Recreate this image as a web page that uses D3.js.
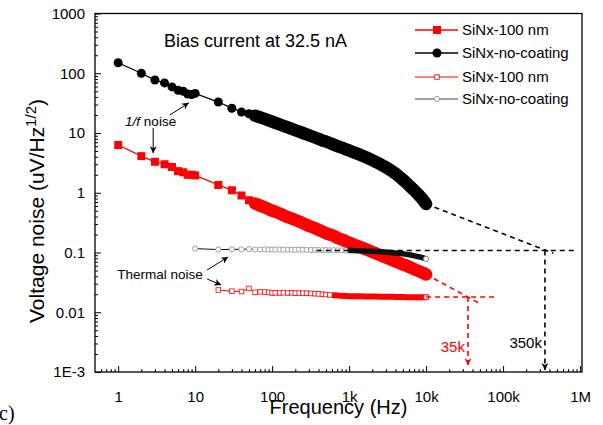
<!DOCTYPE html>
<html>
<head>
<meta charset="utf-8">
<script src="https://cdn.jsdelivr.net/npm/d3@7"></script>
<style>
  html, body { margin: 0; padding: 0; background: #fff; }
  svg { display: block; font-family: "Liberation Sans", Arial, sans-serif; }
</style>
</head>
<body>
<div id="chart"></div>
<script>
// measured frequencies (Hz), shared by the 1/f series
const freqs = [1, 2, 3, 4, 5, 6, 7, 8, 9, 10,
    20, 30, 40, 50, 60, 70, 80, 90, 100,
    110, 125, 140, 160, 180, 200, 225, 250, 280, 320, 360, 400, 450, 500, 560, 630, 710, 800, 900, 1000,
    1120, 1250, 1400, 1600, 1800, 2000, 2250, 2500, 2800, 3200, 3600, 4000, 4500, 5000, 5600, 6300, 7100, 8000, 9000, 10000];

// 1/f noise, SiNx-no-coating (filled circles)
const noCoatNoise = [150, 100, 77, 69, 59, 52, 50, 45, 44, 46,
    33, 26, 22.5, 21, 19.5, 18.2, 17.2, 16.3, 15.5,
    14.8, 13.9, 13.2, 12.4, 11.7, 11.1, 10.5, 10.0, 9.5, 8.9, 8.4, 8.0, 7.5, 7.2, 6.8, 6.4, 6.0, 5.7, 5.35, 5.1,
    4.8, 4.55, 4.3, 4.0, 3.75, 3.5, 3.25, 3.05, 2.8, 2.55, 2.3, 2.1, 1.85, 1.65, 1.45, 1.25, 1.08, 0.92, 0.78, 0.65];

// 1/f noise, SiNx-100 nm (filled squares)
const nm100Noise = [6.3, 4.1, 3.3, 3.0, 2.7, 2.3, 2.2, 2.0, 2.0, 1.95,
    1.35, 1.1, 0.9, 0.75, 0.66, 0.61, 0.57, 0.53, 0.5,
    0.48, 0.45, 0.42, 0.39, 0.37, 0.35, 0.33, 0.31, 0.29, 0.27, 0.255, 0.24, 0.225, 0.21, 0.2, 0.19, 0.175, 0.165, 0.155, 0.146,
    0.138, 0.13, 0.123, 0.115, 0.108, 0.102, 0.096, 0.091, 0.086, 0.08, 0.075, 0.071, 0.067, 0.063, 0.06, 0.056, 0.052, 0.049, 0.046, 0.043];

// thermal noise (open markers); no-coating starts at 10 Hz, 100 nm at 20 Hz
const thermalNoCoat = [0.116,
    0.112, 0.113, 0.113, 0.114, 0.112, 0.112, 0.113, 0.112, 0.112,
    0.112, 0.112, 0.111, 0.112, 0.111, 0.111, 0.112, 0.111, 0.111, 0.110, 0.111, 0.110, 0.110, 0.110, 0.109, 0.110, 0.109, 0.109, 0.108, 0.108,
    0.108, 0.107, 0.107, 0.106, 0.105, 0.105, 0.104, 0.103, 0.102, 0.101, 0.099, 0.098, 0.096, 0.095, 0.093, 0.091, 0.088, 0.085, 0.082, 0.078];
const thermal100 = [0.0236, 0.0225, 0.0222, 0.025, 0.0215, 0.022, 0.0218, 0.0215, 0.021,
    0.0212, 0.021, 0.0213, 0.021, 0.0212, 0.0208, 0.021, 0.0207, 0.0209, 0.0206, 0.0205, 0.0203, 0.02, 0.0198, 0.0195, 0.0192, 0.019, 0.0188, 0.0187, 0.0186,
    0.0186, 0.0185, 0.0185, 0.0184, 0.0184, 0.0183, 0.0183, 0.0182, 0.0182, 0.0181, 0.0181, 0.018, 0.018, 0.018, 0.0179, 0.0179, 0.0179, 0.0178, 0.0178, 0.0178];

// dashed extrapolations [freq, value]
const noCoatFit = [[10000, 0.65], [450000, 0.097]];
const noCoatFloor = [[380, 0.108], [870000, 0.108]];
const nm100Fit = [[10000, 0.043], [50000, 0.014]];
const nm100Floor = [[10000, 0.018], [86000, 0.018]];

// corner frequencies
const cornerFreqs = [35000, 350000];
const cornerLevels = [0.018, 0.108];
const cornerTips = [1.3e-3, 1.08e-3];
const cornerLabels = ['35k', '350k'];
const cornerColors = ['#ff0000', '#000000'];

const xTickValues = [1, 10, 100, 1e3, 1e4, 1e5, 1e6];
const xTickLabels = ['1', '10', '100', '1k', '10k', '100k', '1M'];
const yTickValues = [1e-3, 0.01, 0.1, 1, 10, 100, 1000];
const yTickLabels = ['1E-3', '0.01', '0.1', '1', '10', '100', '1000'];

const legendLabels = ['SiNx-100 nm', 'SiNx-no-coating', 'SiNx-100 nm', 'SiNx-no-coating'];

const W = 603, H = 425;
const margin = { left: 95, right: 21, top: 13.5, bottom: 53 };

const svg = d3.select('#chart').append('svg')
    .attr('width', W)
    .attr('height', H);

const defs = svg.append('defs');
function addArrow(id, color) {
    defs.append('marker')
        .attr('id', id)
        .attr('viewBox', '0 0 10 10')
        .attr('refX', 10).attr('refY', 5)
        .attr('markerWidth', 9).attr('markerHeight', 7)
        .attr('markerUnits', 'userSpaceOnUse')
        .attr('orient', 'auto')
        .append('path')
        .attr('d', 'M0,0 L10,5 L0,10 L3,5 Z')
        .attr('fill', color);
}
addArrow('arrBlack', '#000');
addArrow('arrRed', '#ff0000');

const x = d3.scaleLog()
    .domain([0.5, 1.06e6])
    .range([margin.left, W - margin.right]);
const y = d3.scaleLog()
    .domain([1e-3, 1000])
    .range([H - margin.bottom, margin.top]);

const plotBottom = H - margin.bottom;

// minor tick positions
const xMinor = [];
for (let e = -1; e <= 5; e++) {
    for (let k = 2; k <= 9; k++) {
        const v = k * Math.pow(10, e);
        if (v > 0.5 && v < 1e6) xMinor.push(v);
    }
}
const yMinor = [];
for (let e = -3; e <= 2; e++) {
    for (let k = 2; k <= 9; k++) yMinor.push(k * Math.pow(10, e));
}

// x axis
svg.append('g')
    .attr('transform', `translate(0,${plotBottom})`)
    .call(d3.axisBottom(x).tickValues(xMinor).tickSize(-3).tickFormat(''))
    .call(g => g.select('.domain').remove());
svg.append('g')
    .attr('transform', `translate(0,${plotBottom})`)
    .call(d3.axisBottom(x).tickValues(xTickValues).tickSize(-6).tickPadding(19)
        .tickFormat((d, i) => xTickLabels[i]))
    .call(g => g.select('.domain').remove())
    .call(g => g.selectAll('text').attr('font-size', 15).attr('fill', '#000')
        .attr('font-family', '"Liberation Sans", Arial, sans-serif'));

// y axis
svg.append('g')
    .attr('transform', `translate(${margin.left},0)`)
    .call(d3.axisLeft(y).tickValues(yMinor).tickSize(-3).tickFormat(''))
    .call(g => g.select('.domain').remove());
svg.append('g')
    .attr('transform', `translate(${margin.left},0)`)
    .call(d3.axisLeft(y).tickValues(yTickValues).tickSize(-6).tickPadding(10)
        .tickFormat((d, i) => yTickLabels[i]))
    .call(g => g.select('.domain').remove())
    .call(g => g.selectAll('text').attr('font-size', 15).attr('fill', '#000')
        .attr('font-family', '"Liberation Sans", Arial, sans-serif'));

svg.selectAll('.tick line').attr('stroke', '#000').attr('stroke-width', 1);

// plot frame
svg.append('rect')
    .attr('x', margin.left)
    .attr('y', margin.top)
    .attr('width', W - margin.right - margin.left)
    .attr('height', plotBottom - margin.top)
    .attr('fill', 'none')
    .attr('stroke', '#000')
    .attr('stroke-width', 1.3);

const plot = svg.append('g');
const line = d3.line().x(d => x(d[0])).y(d => y(d[1]));

const noCoatData = freqs.map((f, i) => [f, noCoatNoise[i]]);
const nm100Data = freqs.map((f, i) => [f, nm100Noise[i]]);
const thermalNoCoatData = freqs.slice(9).map((f, i) => [f, thermalNoCoat[i]]);
const thermal100Data = freqs.slice(10).map((f, i) => [f, thermal100[i]]);

// filled series: thin joining line, dense band of overlapping markers, markers
function drawFilled(data, color, shape) {
    plot.append('path')
        .attr('d', line(data))
        .attr('fill', 'none')
        .attr('stroke', color)
        .attr('stroke-width', 1.3);
    plot.append('path')
        .attr('d', line(data.filter(d => d[0] >= 60)))
        .attr('fill', 'none')
        .attr('stroke', color)
        .attr('stroke-width', 12.5)
        .attr('stroke-linecap', 'round')
        .attr('stroke-linejoin', 'round');
    if (shape === 'circle') {
        plot.selectAll(null).data(data).enter().append('circle')
            .attr('cx', d => x(d[0])).attr('cy', d => y(d[1]))
            .attr('r', 4.5).attr('fill', color);
    } else {
        plot.selectAll(null).data(data).enter().append('rect')
            .attr('x', d => x(d[0]) - 4).attr('y', d => y(d[1]) - 4)
            .attr('width', 8).attr('height', 8).attr('fill', color);
    }
}
drawFilled(nm100Data, '#ff0000', 'square');
drawFilled(noCoatData, '#000000', 'circle');

// open series: thin line, dense dark tail, small open markers (sparse part + last point)
function drawOpen(data, lineColor, markColor, shape, tailFrom, tailWidth) {
    plot.append('path')
        .attr('d', line(data))
        .attr('fill', 'none')
        .attr('stroke', lineColor)
        .attr('stroke-width', 1);
    plot.append('path')
        .attr('d', line(data.filter(d => d[0] >= tailFrom)))
        .attr('fill', 'none')
        .attr('stroke', lineColor)
        .attr('stroke-width', tailWidth)
        .attr('stroke-linecap', 'round');
    const shown = data.filter((d, i) => d[0] < tailFrom || i === data.length - 1);
    if (shape === 'circle') {
        plot.selectAll(null).data(shown).enter().append('circle')
            .attr('cx', d => x(d[0])).attr('cy', d => y(d[1]))
            .attr('r', 2.6).attr('fill', '#fff')
            .attr('stroke', markColor).attr('stroke-width', 0.8);
    } else {
        plot.selectAll(null).data(shown).enter().append('rect')
            .attr('x', d => x(d[0]) - 2.3).attr('y', d => y(d[1]) - 2.3)
            .attr('width', 4.6).attr('height', 4.6).attr('fill', '#fff')
            .attr('stroke', markColor).attr('stroke-width', 0.8);
    }
}
drawOpen(thermal100Data, '#ff0000', '#ff0000', 'square', 630, 6);
drawOpen(thermalNoCoatData, '#111', '#888', 'circle', 1000, 5.5);

// dashed extrapolations
function dashed(data, color) {
    plot.append('path')
        .attr('d', line(data))
        .attr('fill', 'none')
        .attr('stroke', color)
        .attr('stroke-width', 1.6)
        .attr('stroke-dasharray', '5,4');
}
dashed(noCoatFit, '#000');
dashed(noCoatFloor, '#000');
dashed(nm100Fit, '#ff0000');
dashed(nm100Floor, '#ff0000');

// corner frequency arrows and labels
cornerFreqs.forEach((f, i) => {
    plot.append('line')
        .attr('x1', x(f)).attr('y1', y(cornerLevels[i]))
        .attr('x2', x(f)).attr('y2', y(cornerTips[i]))
        .attr('stroke', cornerColors[i])
        .attr('stroke-width', 1.6)
        .attr('stroke-dasharray', '5,4')
        .attr('marker-end', i === 0 ? 'url(#arrRed)' : 'url(#arrBlack)');
    plot.append('text')
        .attr('x', x(f) - 3)
        .attr('y', i === 0 ? y(2.2e-3) : y(2.5e-3))
        .attr('text-anchor', 'end')
        .attr('font-size', 15)
        .attr('fill', cornerColors[i])
        .text(cornerLabels[i]);
});

// annotations
svg.append('text')
    .attr('x', 164).attr('y', 47)
    .attr('font-size', 18)
    .text('Bias current at 32.5 nA');

const fNote = svg.append('text')
    .attr('x', x(1.23)).attr('y', y(13.1))
    .attr('font-size', 13.5);
fNote.append('tspan').attr('font-style', 'italic').text('1/f');
fNote.append('tspan').text(' noise');

svg.append('text')
    .attr('x', x(0.97)).attr('y', y(0.036))
    .attr('font-size', 13.5)
    .text('Thermal noise');

const noteArrows = [
    [[4.7, 20], [8.3, 32]],
    [[2.85, 12.2], [2.85, 4.6]],
    [[14.3, 0.051], [26.8, 0.084]],
    [[14.3, 0.036], [21.8, 0.0286]]
];
noteArrows.forEach(a => {
    svg.append('line')
        .attr('x1', x(a[0][0])).attr('y1', y(a[0][1]))
        .attr('x2', x(a[1][0])).attr('y2', y(a[1][1]))
        .attr('stroke', '#000').attr('stroke-width', 1)
        .attr('marker-end', 'url(#arrBlack)');
});

// legend
const legendY = [30, 53, 77, 99];
const legend = svg.append('g');
legendLabels.forEach((label, i) => {
    const ly = legendY[i];
    const solid = i < 2;
    const color = i % 2 === 0 ? '#ff0000' : (solid ? '#000' : '#444');
    legend.append('line')
        .attr('x1', 415).attr('x2', 458).attr('y1', ly).attr('y2', ly)
        .attr('stroke', color).attr('stroke-width', solid ? 1.6 : 1);
    if (i === 0) {
        legend.append('rect').attr('x', 433).attr('y', ly - 4).attr('width', 8).attr('height', 8).attr('fill', color);
    } else if (i === 1) {
        legend.append('circle').attr('cx', 437).attr('cy', ly).attr('r', 4.5).attr('fill', color);
    } else if (i === 2) {
        legend.append('rect').attr('x', 434.7).attr('y', ly - 2.3).attr('width', 4.6).attr('height', 4.6)
            .attr('fill', '#fff').attr('stroke', color).attr('stroke-width', 0.8);
    } else {
        legend.append('circle').attr('cx', 437).attr('cy', ly).attr('r', 2.6)
            .attr('fill', '#fff').attr('stroke', '#888').attr('stroke-width', 0.8);
    }
    legend.append('text')
        .attr('x', 462).attr('y', ly + 5)
        .attr('font-size', 15)
        .text(label);
});

// axis titles
svg.append('text')
    .attr('x', (margin.left + W - margin.right) / 2)
    .attr('y', 414)
    .attr('text-anchor', 'middle')
    .attr('font-size', 20)
    .text('Frequency (Hz)');

const yTitle = svg.append('text')
    .attr('transform', 'translate(44,211) rotate(-90)')
    .attr('text-anchor', 'middle')
    .attr('font-size', 21);
yTitle.append('tspan').text('Voltage noise (uV/Hz');
yTitle.append('tspan').attr('font-size', 15).attr('dy', -8).text('1/2');
yTitle.append('tspan').attr('dy', 8).text(')');

// panel label
svg.append('text')
    .attr('x', -1).attr('y', 420)
    .attr('font-family', '"Liberation Serif", "Times New Roman", serif')
    .attr('font-size', 20)
    .text('c)');
</script>
</body>
</html>
